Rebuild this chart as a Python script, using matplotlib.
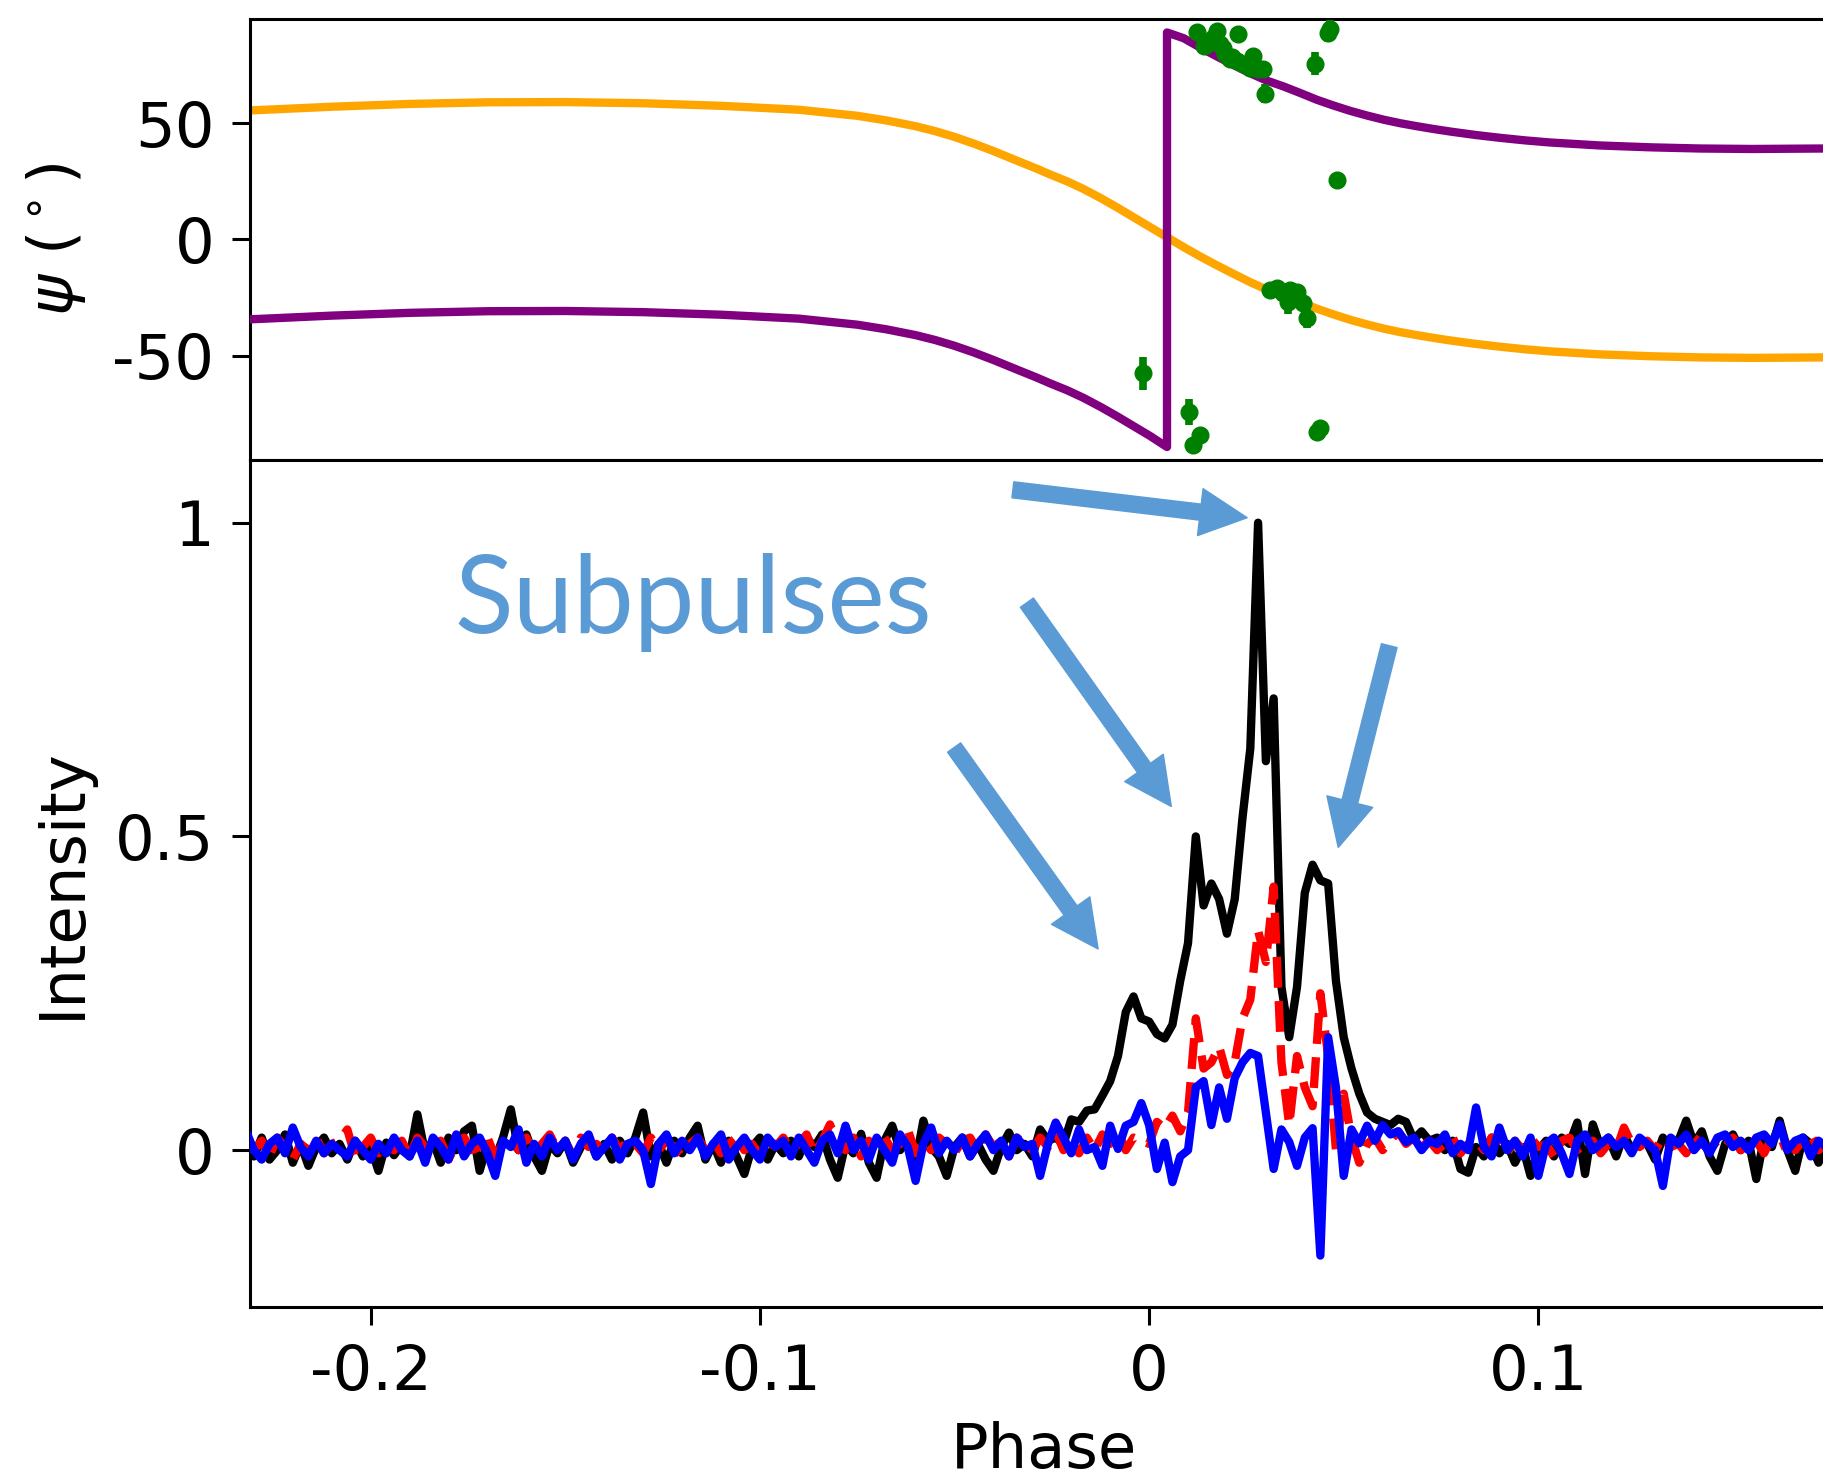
import numpy as np
import matplotlib.pyplot as plt

plt.rcParams['font.family'] = 'DejaVu Sans'
plt.rcParams['mathtext.fontset'] = 'dejavusans'
plt.rcParams['axes.unicode_minus'] = False
plt.rcParams['font.size'] = 45

# position angle model (top panel)
pa_phase = [-0.231, -0.21, -0.19, -0.17, -0.15, -0.13, -0.11, -0.09, -0.075, -0.0675,
            -0.06, -0.055, -0.05, -0.045, -0.04, -0.0365, -0.033, -0.029, -0.0254, -0.021,
            -0.0169, -0.0125, -0.0083, -0.004, 0.0003, 0.0046, 0.0089, 0.013, 0.0175, 0.0218,
            0.026, 0.030, 0.0346, 0.039, 0.0431, 0.0474, 0.0517, 0.056, 0.0603, 0.0645,
            0.0688, 0.0731, 0.0774, 0.084, 0.0902, 0.0966, 0.103, 0.1159, 0.129, 0.1416,
            0.155, 0.1731]
pa_model = [55.6, 57.2, 58.4, 59.1, 59.2, 58.7, 57.6, 55.9, 53.3, 51.3,
            48.8, 46.7, 44.2, 41.3, 38.1, 35.7, 33.3, 30.6, 28.0, 25.0,
            21.8, 17.9, 13.9, 9.6, 5.3, 1.0, -3.3, -7.2, -11.2, -14.9,
            -18.4, -21.4, -24.1, -27.0, -29.8, -32.3, -34.6, -36.6, -38.4, -39.9,
            -41.2, -42.4, -43.5, -45.0, -46.2, -47.3, -48.2, -49.5, -50.3, -50.8,
            -51.0, -50.8]

# orthogonal mode (model shifted by 90 deg, wrapped at +-90)
ortho_phase = [-0.231, -0.21, -0.19, -0.17, -0.15, -0.13, -0.11, -0.09, -0.075, -0.0675,
               -0.06, -0.055, -0.05, -0.045, -0.04, -0.0365, -0.033, -0.029, -0.0254, -0.021,
               -0.0169, -0.0125, -0.0083, -0.004, 0.0003, 0.0046, 0.0046, 0.0089, 0.013, 0.0175,
               0.0218, 0.026, 0.030, 0.0346, 0.039, 0.0431, 0.0474, 0.0517, 0.056, 0.0603,
               0.0645, 0.0688, 0.0731, 0.0774, 0.084, 0.0902, 0.0966, 0.103, 0.1159, 0.129,
               0.1416, 0.155, 0.1731]
ortho_model = [-34.4, -32.8, -31.6, -30.9, -30.8, -31.3, -32.4, -34.1, -36.7, -38.7,
               -41.2, -43.3, -45.8, -48.7, -51.9, -54.3, -56.7, -59.4, -62.0, -65.0,
               -68.2, -72.1, -76.1, -80.4, -84.7, -89.4, 89.2, 86.7, 82.8, 78.8,
               75.1, 71.6, 68.6, 65.9, 63.0, 60.2, 57.7, 55.4, 53.4, 51.6,
               50.1, 48.8, 47.6, 46.5, 45.0, 43.8, 42.7, 41.8, 40.5, 39.7,
               39.2, 39.0, 39.2]

# measured position angles
pa_obs_phase = [0.0123, 0.014, 0.0149, 0.0164, 0.0175, 0.0182, 0.019, 0.0195, 0.0208, 0.0212,
                0.0226, 0.0229, 0.0242, 0.0252, 0.026, 0.0267, 0.0277, 0.0281, 0.0293, 0.0298,
                0.0427, 0.046, 0.0465, 0.0483,
                0.0311, 0.0329, 0.0344, 0.0357, 0.0362, 0.038, 0.0396, 0.0406,
                -0.0015, 0.0103, 0.0113, 0.0131, 0.0432, 0.044]
pa_obs = [89.5, 83.5, 84.3, 86.9, 89.9, 84.2, 82.6, 79.9, 77.9, 78.5,
          77.0, 88.6, 75.6, 75.7, 74.1, 79.2, 74.0, 73.4, 73.6, 62.8,
          75.7, 89.1, 90.5, 25.8,
          -21.9, -20.7, -23.2, -27.1, -21.9, -22.8, -27.5, -34.0,
          -57.7, -74.4, -88.6, -84.3, -83.0, -81.3]
pa_obs_err = [3, 3, 3, 3, 3, 3, 3, 3, 3, 3,
              3, 3, 3, 3, 3, 3, 3, 3, 3, 4,
              5, 4, 4, 3,
              3, 3, 3, 5, 3, 3, 3, 4,
              7, 5.5, 3, 3, 3, 3]

# pulse profile (bottom panel), bins of 0.002 in phase starting at -0.232
prof_start = -0.232
prof_step = 0.002
total_I = [
    0.015, -0.01, 0.02, -0.015, 0.0, 0.025, -0.02, 0.01, -0.025, 0.005,
    0.02, -0.005, 0.01, -0.015, 0.015, -0.01, 0.005, -0.033, 0.012, -0.008,
    0.01, -0.01, 0.057, -0.005, 0.015, -0.02, 0.02, 0.0, 0.03, 0.039,
    -0.033, 0.01, -0.015, 0.02, 0.065, 0.0, 0.025, -0.01, -0.033, 0.01,
    -0.005, 0.015, -0.02, 0.005, 0.02, -0.01, 0.01, -0.015, 0.015, -0.005,
    0.02, 0.06, -0.01, 0.01, -0.02, 0.015, -0.005, 0.02, 0.039, -0.015,
    0.01, -0.02, 0.015, -0.01, -0.038, 0.005, 0.02, -0.015, 0.01, -0.005,
    0.015, -0.01, 0.02, 0.005, 0.025, -0.015, -0.044, 0.01, -0.005, 0.026,
    -0.02, -0.044, 0.015, 0.039, 0.0, 0.015, -0.02, 0.047, 0.005, -0.01,
    -0.041, 0.005, 0.02, -0.01, 0.01, -0.015, -0.033, 0.005, 0.028, 0.0,
    0.01, -0.01, 0.033, 0.015, 0.02, 0.01, 0.049, 0.045, 0.063, 0.065,
    0.087, 0.11, 0.15, 0.22, 0.245, 0.21, 0.205, 0.185, 0.178, 0.2,
    0.27, 0.33, 0.5, 0.39, 0.425, 0.4, 0.345, 0.4, 0.53, 0.64,
    1.0, 0.62, 0.72, 0.26, 0.18, 0.26, 0.41, 0.455, 0.43, 0.425,
    0.27, 0.18, 0.13, 0.09, 0.06, 0.05, 0.045, 0.04, 0.05, 0.045,
    0.017, 0.03, 0.015, 0.02, 0.0, 0.015, -0.03, -0.036, 0.005, -0.01,
    0.02, -0.005, 0.01, -0.02, 0.005, -0.041, 0.0, 0.015, -0.01, 0.02,
    0.01, 0.044, -0.038, 0.041, 0.005, 0.02, -0.01, 0.025, 0.0, 0.015,
    0.01, -0.015, 0.02, 0.005, 0.015, 0.047, 0.01, 0.03, -0.01, -0.033,
    0.01, 0.025, 0.0, 0.015, -0.046, 0.02, 0.005, 0.047, 0.0, -0.033,
    0.02, 0.01, -0.02, 0.015, 0.0, 0.01]
linear_L = [
    0.01, 0.0, 0.015, -0.01, 0.02, 0.005, -0.015, 0.01, 0.0, 0.02,
    -0.005, 0.01, 0.015, 0.033, -0.01, 0.005, 0.02, -0.005, 0.01, 0.0,
    0.015, -0.01, 0.02, 0.005, 0.0, 0.015, -0.015, 0.01, 0.02, 0.0,
    0.005, 0.02, -0.01, 0.01, 0.015, 0.0, 0.02, -0.005, 0.01, 0.025,
    0.0, 0.015, -0.01, 0.02, 0.005, 0.01, -0.005, 0.02, 0.0, 0.015,
    0.01, -0.005, 0.02, 0.0, 0.015, 0.005, -0.01, 0.01, 0.02, 0.0,
    0.015, -0.005, 0.01, 0.02, 0.0, 0.01, -0.01, 0.015, 0.005, 0.02,
    0.0, 0.01, 0.025, -0.005, 0.015, 0.041, 0.01, 0.0, 0.02, -0.01,
    0.015, 0.005, 0.02, 0.0, 0.01, 0.033, -0.005, 0.015, 0.0, 0.02,
    0.01, -0.005, 0.015, 0.02, 0.0, 0.025, 0.005, 0.015, -0.01, 0.02,
    0.01, 0.0, 0.02, 0.005, 0.03, 0.0, 0.015, -0.005, 0.02, 0.0,
    0.025, 0.01, 0.03, 0.0, 0.02, 0.015, 0.01, 0.045, 0.035, 0.055,
    0.03, 0.06, 0.21, 0.13, 0.14, 0.165, 0.12, 0.14, 0.21, 0.24,
    0.35, 0.3, 0.42, 0.14, 0.04, 0.15, 0.1, 0.07, 0.25, 0.15,
    0.0, 0.09, 0.02, -0.02, 0.01, 0.02, 0.0, 0.015, 0.03, 0.01,
    0.02, 0.005, 0.015, 0.0, 0.01, 0.02, -0.005, 0.01, 0.015, 0.0,
    0.02, 0.01, -0.005, 0.015, 0.0, 0.02, 0.005, 0.01, -0.01, 0.015,
    0.02, 0.0, 0.01, 0.015, -0.005, 0.01, 0.0, 0.036, 0.01, 0.005,
    0.015, 0.0, 0.02, 0.005, 0.01, -0.005, 0.02, 0.01, 0.0, 0.015,
    0.005, 0.02, 0.0, 0.01, 0.015, -0.005, 0.02, 0.005, 0.01, 0.0,
    0.015, 0.025, 0.0, 0.01, 0.02, 0.005]
circular_V = [
    0.03, 0.0, -0.015, 0.01, 0.02, -0.005, 0.036, 0.005, -0.01, 0.015,
    -0.005, 0.01, 0.0, -0.01, 0.015, 0.0, -0.015, 0.01, -0.005, 0.02,
    0.0, -0.01, 0.015, -0.02, 0.02, 0.005, -0.015, 0.025, -0.01, 0.01,
    0.02, -0.005, -0.041, 0.015, 0.005, 0.033, -0.02, 0.01, -0.01, 0.02,
    0.0, 0.015, -0.015, 0.01, 0.025, -0.01, 0.005, 0.02, -0.015, 0.01,
    0.015, 0.0, -0.054, 0.01, 0.025, -0.005, 0.015, 0.0, 0.02, -0.01,
    0.01, 0.025, -0.015, 0.005, 0.02, 0.0, -0.015, 0.02, 0.005, 0.015,
    -0.01, 0.02, 0.0, -0.02, 0.015, 0.025, -0.005, 0.039, 0.0, 0.015,
    -0.015, 0.02, 0.0, -0.02, 0.025, 0.005, -0.049, 0.01, 0.036, -0.005,
    0.015, 0.0, 0.02, -0.01, 0.01, 0.025, 0.0, 0.015, -0.01, 0.02,
    0.005, 0.01, -0.041, 0.01, 0.044, 0.02, -0.005, 0.033, 0.0, 0.005,
    -0.025, 0.039, 0.002, 0.039, 0.045, 0.075, 0.04, -0.03, 0.012, -0.051,
    -0.01, 0.0, 0.1, 0.11, 0.04, 0.1, 0.05, 0.115, 0.14, 0.155,
    0.15, 0.06, -0.03, 0.033, 0.013, -0.025, 0.02, 0.035, -0.168, 0.18,
    0.1, -0.041, 0.033, 0.011, 0.039, 0.015, 0.04, 0.025, 0.03, 0.013,
    0.02, 0.0, 0.015, 0.01, 0.025, -0.005, 0.01, 0.0, 0.068, 0.005,
    -0.01, 0.036, 0.0, 0.015, -0.01, 0.02, -0.041, 0.01, 0.02, -0.005,
    -0.038, 0.015, 0.025, 0.0, 0.01, 0.02, 0.005, 0.015, -0.005, 0.02,
    0.01, 0.0, -0.057, 0.02, 0.01, 0.025, 0.0, 0.015, -0.005, 0.02,
    0.025, 0.005, 0.015, 0.0, 0.02, 0.025, 0.01, 0.041, 0.0, 0.015,
    0.02, -0.01, 0.015, 0.005, 0.02, -0.015]

# arrows pointing at the subpulses: (tail, tip) in phase / intensity
arrow_tails = [(-0.0350, 1.0525), (-0.0314, 0.8726), (-0.0501, 0.6417), (0.0617, 0.8041)]
arrow_tips = [(0.0252, 1.0080), (0.0057, 0.5478), (-0.0131, 0.3206), (0.0486, 0.4825)]

phase = prof_start + prof_step * np.arange(len(total_I))

fig = plt.figure(figsize=(18.23, 14.78), dpi=100)
ax1 = fig.add_axes([0.13714, 0.68877, 0.8711, 0.29838])
ax2 = fig.add_axes([0.13714, 0.11570, 0.8711, 0.57307])

xlim = (-0.2310, 0.1770)

# top panel
ax1.plot(pa_phase, pa_model, color='orange', lw=6, zorder=2)
ax1.plot(ortho_phase, ortho_model, color='purple', lw=6, zorder=3)
ax1.errorbar(pa_obs_phase, pa_obs, yerr=pa_obs_err, fmt='o', color='green',
             markersize=12, elinewidth=5.5, capsize=0, zorder=4)
ax1.set_xlim(xlim)
ax1.set_ylim(-95, 95)
ax1.set_yticks([-50, 0, 50])
ax1.set_yticklabels(['-50', '0', '50'])
ax1.tick_params(axis='x', bottom=False, labelbottom=False)
ax1.set_ylabel(r'$\psi$ ($^\circ$)')
ax1.yaxis.set_label_coords(-0.102, 0.5)

# bottom panel
ax2.plot(phase, total_I, color='k', lw=6, zorder=2)
ax2.plot(phase, linear_L, color='r', lw=6, ls='--', zorder=3)
ax2.plot(phase, circular_V, color='b', lw=6, zorder=4)
ax2.set_xlim(xlim)
ax2.set_ylim(-0.25, 1.1)
ax2.set_xticks([-0.2, -0.1, 0, 0.1])
ax2.set_xticklabels(['-0.2', '-0.1', '0', '0.1'])
ax2.set_yticks([0, 0.5, 1])
ax2.set_yticklabels(['0', '0.5', '1'])
ax2.set_xlabel('Phase')
ax2.set_ylabel('Intensity')
ax2.yaxis.set_label_coords(-0.099, 0.5)
ax2.xaxis.set_label_coords(0.5, -0.135)

for ax in (ax1, ax2):
    for sp in ax.spines.values():
        sp.set_linewidth(2.2)
    ax.tick_params(length=12.7, width=2.2, pad=13, labelsize=45)

ax2.text(-0.1785, 0.825, 'Subpulses', color='#5B9BD5', fontsize=78,
         family=['Lato', 'DejaVu Sans'], ha='left', va='baseline')

for tail, tip in zip(arrow_tails, arrow_tips):
    ax2.annotate('', xy=tip, xytext=tail, xycoords='data', textcoords='data',
                 annotation_clip=False,
                 arrowprops=dict(arrowstyle='simple,head_length=1.0,head_width=1.0,tail_width=0.34',
                                 mutation_scale=34, color='#5B9BD5', shrinkA=0, shrinkB=0))

fig.savefig('out.png', dpi=100)
